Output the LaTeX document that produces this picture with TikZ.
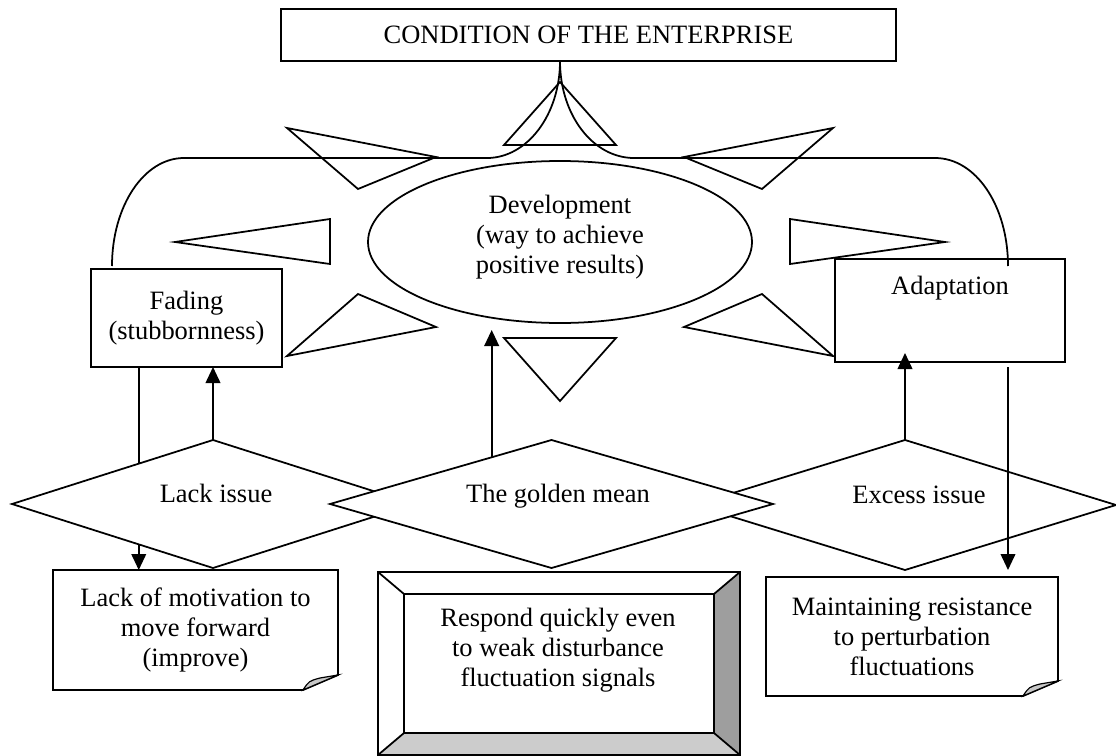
\documentclass[tikz,border=0pt]{standalone}
\usepackage{fontspec}
\setmainfont{Liberation Serif}
\usepackage{tikz}
\usetikzlibrary{arrows.meta,shapes.geometric,calc}
\newcommand{\pxu}{0.03cm}
\definecolor{bevelside}{gray}{0.62}
\definecolor{bevelfloor}{gray}{0.8}
\definecolor{foldgray}{gray}{0.78}

\begin{document}
\begin{tikzpicture}[x=\pxu,y=-\pxu,line width=1.5pt,>={Triangle[length=0.48cm,width=0.44cm]},
	every node/.style={font=\fontsize{22.6}{25.6}\selectfont,outer sep=0pt},
	box/.style={draw,rectangle,align=center,inner sep=0pt},
	note/.style={rectangle,align=center,inner sep=0pt},
	diam/.style={draw,diamond,fill=white,inner sep=0pt},
	txt/.style={align=center,inner sep=0pt}]
		\useasboundingbox (0,0) rectangle (1116,756);

		% top box and development
		\node[box,minimum width=615*\pxu,minimum height=52*\pxu] (cond) at (588.5,35) {CONDITION OF THE ENTERPRISE};
		\node[draw,ellipse,minimum width=384*\pxu,minimum height=162*\pxu,inner sep=0pt] (dev) at (560,242) {};
		\node[txt] (devtext) at ($(dev.center)+(0,-5)$) {Development\\(way to achieve\\positive results)};

		\node[box,minimum width=191*\pxu,minimum height=98*\pxu] (fading) at (186.5,318) {Fading\\(stubbornness)};
		\node[box,minimum width=230*\pxu,minimum height=103*\pxu] (adapt) at (950,310.5) {};
		\node[txt,anchor=base] (adapttext) at ($(adapt.center)+(0,-16.5)$) {Adaptation};

		% brace
		\coordinate (bl) at (112,266);
		\coordinate (br) at (1008,266);
		\coordinate (cusp) at (dev.north |- cond.south);
		\draw (bl) .. controls (112,206) and (144,158) .. (184,158) -- (487,158)
			.. controls (527,158) and (560,115) .. (cusp)
			.. controls (560,115) and (593,158) .. (634,158) -- (935,158)
			.. controls (976,158) and (1008,206) .. (br);

		\foreach \xa/\ya/\xb/\yb/\xc/\yc in
			{560/82/504/145/616/145, 287/128/436/157/358/189, 833/128/684/157/762/189,
			175/242/330/219/330/264, 945/242/790/219/790/264,
			358/294/436/327/287/356, 762/294/684/327/833/356, 504/338/616/338/560/401}
				\draw (\xa,\ya) -- (\xb,\yb) -- (\xc,\yc) -- cycle;

		% notes with folded corner
		\node[note,minimum width=285*\pxu,minimum height=120*\pxu] (lackmot) at (195.5,630) {Lack of motivation to\\move forward\\(improve)};
		\node[note,minimum width=292*\pxu,minimum height=119*\pxu] (maint) at (912,636.5) {Maintaining resistance\\to perturbation\\fluctuations};
		\foreach \n in {lackmot,maint}
		{
			\draw (\n.north west) -- (\n.north east) -- ($(\n.south east)+(0,-15)$) -- ($(\n.south east)+(-35,0)$) -- (\n.south west) -- cycle;
			\filldraw[fill=foldgray,line width=1pt] ($(\n.south east)+(-35,0)$) .. controls ($(\n.south east)+(-29,-9)$) .. ($(\n.south east)+(-18,-12)$) -- ($(\n.south east)+(0,-15)$) -- cycle;
		}

		\coordinate (fadeleft) at ($(fading.south west)!0.25!(fading.south east)$);
		\draw[->] (fadeleft) -- (fadeleft |- lackmot.north);

		% issues
		\node[diam,minimum width=402*\pxu,minimum height=128*\pxu] (lack) at (213,504) {};
		\node[diam,minimum width=422*\pxu,minimum height=130*\pxu] (excess) at (905,505) {};
		\node[diam,minimum width=443*\pxu,minimum height=128*\pxu] (gold) at (551.5,504) {};
		\node[txt,anchor=base] (lacktext) at ($(lack.center)+(3,-2)$) {Lack issue};
		\node[txt,anchor=base] (goldtext) at ($(gold.center)+(6.5,-2)$) {The golden mean};
		\node[txt,anchor=base] (excesstext) at ($(excess.center)+(14,-2)$) {Excess issue};

		\draw[->] (lack.north) -- (lack.north |- fading.south);
		\coordinate (goldup) at ($(gold.west)!0.73!(gold.north)$);
		\draw[->,shorten >=0.21cm] (goldup) -- (goldup |- dev.south);
		\draw[->,shorten >=-0.27cm] (excess.north) -- (excess.north |- adapt.south);
		\draw[->,shorten <=0.15cm,shorten >=0.21cm] (br |- adapt.south) -- (br |- maint.north);

		% bevelled box
		\node[minimum width=362*\pxu,minimum height=183*\pxu,inner sep=0pt] (respondframe) at (559,663.5) {};
		\node[minimum width=310*\pxu,minimum height=139*\pxu,inner sep=0pt] (respond) at (559,663.5) {};
		\fill[bevelside] (respondframe.north east) -- (respondframe.south east) -- (respond.south east) -- (respond.north east) -- cycle;
		\fill[bevelfloor] (respondframe.south west) -- (respondframe.south east) -- (respond.south east) -- (respond.south west) -- cycle;
		\draw (respondframe.north west) rectangle (respondframe.south east);
		\draw (respond.north west) rectangle (respond.south east);
		\foreach \corner in {north west,north east,south west,south east}
			\draw (respondframe.\corner) -- (respond.\corner);
		\node[txt] (respondtext) at ($(respond.center)+(-1,-13)$) {Respond quickly even\\to weak disturbance\\fluctuation signals};
	\end{tikzpicture}
\end{document}
